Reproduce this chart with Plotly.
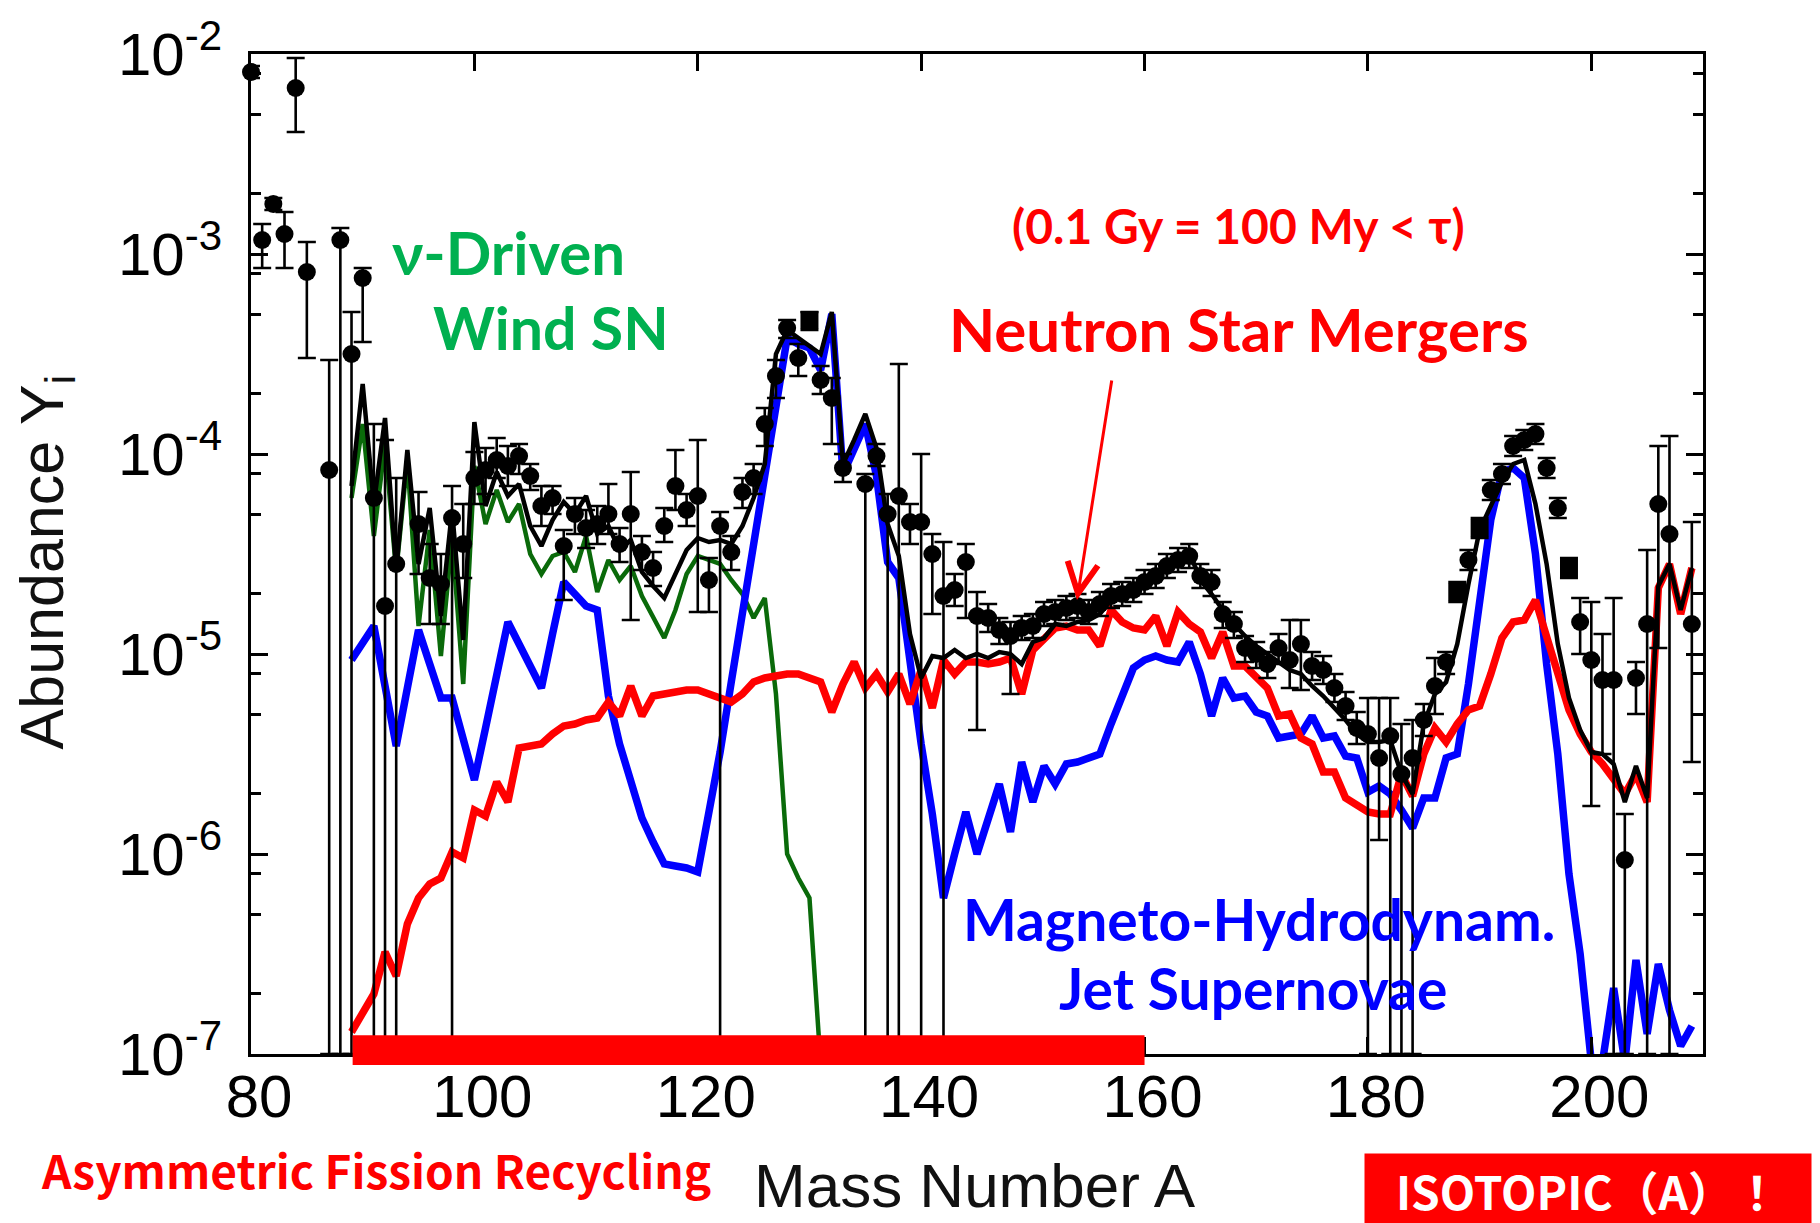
import numpy as np
import plotly.graph_objects as go

# ---------------- observed solar r-process abundances ----------------
# mass number, log10(Y), and lower / upper bounds of the error bar (log10)
obs_A = [80, 81, 82, 83, 84, 85, 87, 88, 89, 90, 91, 92, 93, 95, 96, 97, 98, 99, 100,
         101, 102, 103, 104, 105, 106, 107, 108, 109, 110, 111, 112, 113, 114, 115, 116,
         117, 118, 119, 120, 121, 122, 123, 124, 125, 126, 127, 128, 129, 130, 131, 132,
         133, 135, 136, 137, 138, 139, 140, 141, 142, 143, 144, 145, 146, 147, 148, 149,
         150, 151, 152, 153, 154, 155, 156, 157, 158, 159, 160, 161, 162, 163, 164, 165,
         166, 167, 168, 169, 170, 171, 172, 173, 174, 175, 176, 177, 178, 179, 180, 181,
         182, 183, 184, 185, 186, 187, 188, 189, 190, 191, 192, 193, 194, 195, 196, 197,
         198, 199, 200, 201, 202, 203, 204, 205, 206, 207, 209]
obs_logY = [-2.09, -2.93, -2.75, -2.90, -2.17, -3.09, -4.08, -2.93, -3.50, -3.12, -4.22, -4.76,
            -4.55, -4.35, -4.62, -4.65, -4.32, -4.45, -4.12, -4.08, -4.03, -4.06, -4.01, -4.11,
            -4.26, -4.22, -4.46, -4.30, -4.37, -4.35, -4.30, -4.45, -4.30, -4.49, -4.57, -4.36,
            -4.16, -4.28, -4.21, -4.63, -4.36, -4.49, -4.19, -4.12, -3.85, -3.61, -3.37, -3.52,
            -3.33, -3.63, -3.72, -4.07, -4.15, -4.01, -4.30, -4.21, -4.34, -4.34, -4.50, -4.71,
            -4.68, -4.54, -4.81, -4.82, -4.88, -4.91, -4.87, -4.86, -4.80, -4.79, -4.77, -4.76,
            -4.79, -4.75, -4.71, -4.70, -4.68, -4.64, -4.61, -4.56, -4.53, -4.51, -4.61, -4.64,
            -4.80, -4.85, -4.97, -5.00, -5.05, -4.97, -5.03, -4.95, -5.06, -5.08, -5.17, -5.26,
            -5.37, -5.40, -5.52, -5.41, -5.60, -5.52, -5.33, -5.16, -5.04, -4.69, -4.53, -4.37,
            -4.18, -4.10, -3.96, -3.93, -3.90, -4.07, -4.27, -4.57, -4.84, -5.03, -5.13, -5.13,
            -6.03, -5.12, -4.85, -4.25, -4.40, -4.85]
obs_lo = [-2.12, -3.07, -2.78, -3.07, -2.39, -3.52, -7.00, -7.00, -7.00, -3.44, -7.00, -7.00,
          -7.00, -4.60, -4.85, -4.85, -7.00, -4.62, -4.25, -4.20, -4.12, -4.16, -4.10, -4.18,
          -4.36, -4.30, -4.73, -4.40, -4.47, -4.45, -4.40, -4.54, -4.83, -4.58, -4.66, -4.44,
          -4.28, -4.36, -4.79, -4.79, -7.00, -4.58, -4.27, -4.20, -3.96, -3.72, -3.42, -3.61,
          -3.38, -3.70, -3.95, -4.14, -7.00, -4.06, -7.00, -7.00, -4.45, -7.00, -4.80, -7.00,
          -4.76, -4.82, -5.38, -4.89, -4.95, -5.20, -4.93, -4.92, -4.86, -4.85, -4.83, -4.82,
          -4.85, -4.81, -4.77, -4.76, -4.74, -4.70, -4.67, -4.62, -4.59, -4.57, -4.67, -4.71,
          -4.87, -4.92, -5.04, -5.07, -5.12, -5.05, -5.17, -5.18, -5.13, -5.15, -5.24, -5.33,
          -5.45, -7.00, -5.93, -7.00, -7.00, -7.00, -5.41, -5.30, -5.10, -4.74, -4.58, -4.42,
          -4.23, -4.15, -4.01, -3.98, -3.95, -4.12, -4.32, -4.62, -5.00, -5.76, -5.50, -7.00,
          -7.00, -5.30, -7.00, -4.97, -7.00, -5.54]
obs_hi = [-2.06, -2.85, -2.72, -2.79, -2.02, -2.94, -3.53, -2.87, -3.29, -3.07, -3.85, -3.93,
          -4.12, -4.19, -4.45, -4.50, -4.16, -4.25, -3.99, -3.97, -3.92, -3.96, -3.95, -4.05,
          -4.16, -4.16, -4.38, -4.22, -4.28, -4.26, -4.15, -4.37, -4.09, -4.41, -4.49, -4.27,
          -3.98, -4.20, -3.93, -4.52, -4.29, -4.41, -4.12, -4.05, -3.77, -3.53, -3.33, -3.45,
          -3.29, -3.56, -3.62, -4.00, -4.10, -3.95, -4.20, -3.55, -4.25, -4.00, -4.40, -4.44,
          -4.60, -4.45, -4.69, -4.75, -4.82, -4.84, -4.81, -4.80, -4.74, -4.73, -4.71, -4.70,
          -4.73, -4.69, -4.65, -4.64, -4.62, -4.58, -4.55, -4.50, -4.47, -4.45, -4.55, -4.58,
          -4.74, -4.79, -4.91, -4.94, -4.99, -4.90, -4.83, -4.83, -4.99, -5.01, -5.10, -5.19,
          -5.29, -5.22, -5.22, -5.22, -5.35, -5.33, -5.25, -5.02, -4.99, -4.64, -4.48, -4.32,
          -4.13, -4.05, -3.91, -3.88, -3.85, -4.02, -4.22, -4.52, -4.72, -4.74, -4.90, -4.72,
          -5.80, -5.04, -4.48, -3.96, -3.91, -4.34]
obs_square_A = [130, 188, 190, 198]

# ---------------- model curves (log10 Y) ----------------
wind_A = list(range(89, 132))
wind_logY = [-4.22, -3.85, -4.41, -3.95, -4.59, -4.03, -4.86, -4.38, -5.01, -4.42, -5.15, -4.06,
             -4.35, -4.18, -4.34, -4.25, -4.50, -4.60, -4.51, -4.49, -4.59, -4.41,
             -4.69, -4.53, -4.63, -4.56, -4.71, -4.82, -4.92, -4.78, -4.60, -4.51,
             -4.53, -4.55, -4.63, -4.70, -4.82, -4.72, -5.20, -6.00, -6.12, -6.22, -7.05]

mhd_A = list(range(89, 210))
mhd_logY = [-5.03, -4.95, -4.86, -5.16, -5.46, -5.17, -4.88, -5.05, -5.22, -5.22, -5.43, -5.63,
            -5.37, -5.10, -4.84, -4.95, -5.06, -5.17, -4.90, -4.64, -4.70, -4.76,
            -4.78, -5.21, -5.45, -5.63, -5.82, -5.94, -6.05, -6.06, -6.07, -6.09,
            -5.80, -5.49, -5.14, -4.80, -4.46, -4.10, -3.73, -3.42, -3.45, -3.47,
            -3.58, -3.30, -4.10, -3.97, -3.85, -4.11, -4.54, -4.62, -5.05, -5.45,
            -5.80, -6.22, -6.00, -5.79, -6.00, -5.82, -5.65, -5.89, -5.54, -5.74,
            -5.56, -5.65, -5.55, -5.54, -5.52, -5.50, -5.35, -5.21, -5.07, -5.03,
            -5.01, -5.03, -5.04, -4.94, -5.10, -5.31, -5.12, -5.22, -5.21, -5.29,
            -5.31, -5.42, -5.41, -5.40, -5.31, -5.42, -5.41, -5.51, -5.52, -5.69,
            -5.66, -5.70, -5.78, -5.87, -5.72, -5.72, -5.52, -5.50, -5.15, -4.73,
            -4.33, -4.09, -4.07, -4.12, -4.50, -5.05, -5.50, -6.10, -6.50, -7.04,
            -7.04, -6.67, -7.04, -6.53, -6.90, -6.55, -6.78, -6.96, -6.86]

nsm_A = list(range(89, 210))
nsm_logY = [-6.89, -6.80, -6.70, -6.49, -6.61, -6.35, -6.22, -6.15, -6.12, -5.99, -6.02, -5.78,
            -5.81, -5.64, -5.74, -5.47, -5.46, -5.45, -5.40, -5.36, -5.35, -5.33,
            -5.32, -5.24, -5.31, -5.16, -5.31, -5.21, -5.20, -5.19, -5.18, -5.18,
            -5.20, -5.22, -5.24, -5.20, -5.14, -5.12, -5.11, -5.10, -5.10, -5.12,
            -5.14, -5.29, -5.15, -5.04, -5.17, -5.10, -5.19, -5.10, -5.25, -5.08,
            -5.27, -5.03, -5.10, -5.04, -5.04, -5.05, -5.04, -5.02, -5.20, -4.98,
            -4.92, -4.87, -4.86, -4.88, -4.88, -4.96, -4.78, -4.84, -4.87, -4.88,
            -4.81, -4.96, -4.79, -4.85, -4.89, -5.02, -4.89, -5.06, -5.06, -5.12,
            -5.17, -5.31, -5.30, -5.42, -5.45, -5.59, -5.59, -5.72, -5.75, -5.79,
            -5.80, -5.80, -5.60, -5.71, -5.50, -5.37, -5.44, -5.35, -5.28, -5.26,
            -5.10, -4.92, -4.84, -4.83, -4.73, -4.92, -5.10, -5.28, -5.40, -5.49,
            -5.55, -5.62, -5.70, -5.60, -5.74, -4.67, -4.55, -4.80, -4.57]

total_A = list(range(89, 210))
total_logY = [-4.16, -3.65, -4.25, -3.82, -4.58, -3.98, -4.55, -4.27, -4.81, -4.28, -4.93, -3.84,
              -4.26, -4.09, -4.21, -4.15, -4.36, -4.46, -4.33, -4.24, -4.30, -4.21,
              -4.40, -4.36, -4.48, -4.43, -4.59, -4.66, -4.72, -4.60, -4.48, -4.42,
              -4.44, -4.43, -4.45, -4.36, -4.22, -4.05, -3.50, -3.38, -3.42, -3.46,
              -3.50, -3.29, -4.05, -3.93, -3.80, -3.97, -4.35, -4.51, -4.90, -5.12,
              -5.01, -5.02, -4.98, -5.02, -5.00, -5.02, -4.99, -5.00, -5.05, -4.94,
              -4.92, -4.85, -4.86, -4.84, -4.83, -4.80, -4.73, -4.71, -4.66, -4.65,
              -4.60, -4.56, -4.51, -4.49, -4.63, -4.70, -4.78, -4.85, -4.91, -4.96,
              -5.00, -5.04, -5.08, -5.10, -5.16, -5.21, -5.27, -5.33, -5.40, -5.44,
              -5.44, -5.43, -5.60, -5.70, -5.35, -5.20, -5.14, -4.95, -4.65, -4.38,
              -4.26, -4.14, -4.05, -4.03, -4.25, -4.55, -4.95, -5.22, -5.38, -5.49,
              -5.50, -5.55, -5.74, -5.56, -5.72, -4.66, -4.55, -4.78, -4.57]

# fission-recycling mass range marked under the axis
fission_range = [89.1, 160.0]

# axis ticks
x_ticks = [80, 100, 120, 140, 160, 180, 200]
y_exponents = [-7, -6, -5, -4, -3, -2]
y_ticktext = ["10<sup>%d</sup>" % e for e in y_exponents]
y_minor = [m * 10.0 ** e for e in range(-7, -2) for m in (2, 5, 8)]

# ---------------- page geometry ----------------
W, H = 1820, 1223
ML, MR, MT, MB = 251, 117, 47, 169
PW, PH = W - ML - MR, H - MT - MB


def px(x, y):
    """pixel position on the page -> paper coordinates"""
    return (x - ML) / PW, (H - MB - y) / PH


def lin(v):
    return 10.0 ** np.asarray(v, dtype=float)


obs_y = lin(obs_logY)
err_plus = lin(obs_hi) - obs_y
err_minus = obs_y - lin(obs_lo)
obs_symbols = ["square" if a in obs_square_A else "circle" for a in obs_A]

fig = go.Figure()
fig.add_trace(go.Scatter(x=wind_A, y=lin(wind_logY), mode="lines",
                         line=dict(color="#0A6A0A", width=4.5), name="nu-wind"))
fig.add_trace(go.Scatter(x=mhd_A, y=lin(mhd_logY), mode="lines",
                         line=dict(color="#0000FF", width=7.5), name="MHD jet"))
fig.add_trace(go.Scatter(x=nsm_A, y=lin(nsm_logY), mode="lines",
                         line=dict(color="#FF0000", width=7.5), name="NSM"))
fig.add_trace(go.Scatter(x=total_A, y=lin(total_logY), mode="lines",
                         line=dict(color="black", width=4.5), name="total"))
fig.add_trace(go.Scatter(
    x=obs_A, y=obs_y, mode="markers", cliponaxis=False, name="solar r",
    marker=dict(color="black", size=18, symbol=obs_symbols, line=dict(width=0)),
    error_y=dict(type="data", symmetric=False, array=err_plus, arrayminus=err_minus,
                 color="black", thickness=2.6, width=9)))

axis_font = dict(family="Liberation Sans, Arial, sans-serif", size=60, color="black")

fig.update_xaxes(range=[80, 210], tickmode="array", tickvals=x_ticks,
                 ticks="inside", ticklen=17, tickwidth=3, tickcolor="black",
                 showline=True, linewidth=3, linecolor="black", mirror="ticks",
                 showgrid=False, zeroline=False, tickfont=axis_font,
                 ticklabelshift=8, ticklabelstandoff=-12)
fig.update_yaxes(type="log", range=[-7, -2], tickmode="array",
                 tickvals=[10.0 ** e for e in y_exponents], ticktext=y_ticktext,
                 ticks="inside", ticklen=17, tickwidth=3, tickcolor="black",
                 minor=dict(tickvals=y_minor, ticks="inside", ticklen=10,
                            tickwidth=3, tickcolor="black", showgrid=False),
                 showline=True, linewidth=3, linecolor="black", mirror="ticks",
                 showgrid=False, zeroline=False, tickfont=axis_font,
                 ticklabelstandoff=14)

# red bar marking the asymmetric-fission range
fig.add_shape(type="rect", xref="x", yref="paper",
              x0=fission_range[0], x1=fission_range[1],
              y0=px(0, 1065)[1], y1=px(0, 1035)[1],
              fillcolor="#FF0000", line=dict(width=0), layer="above")

label_font = "Lato, Carlito, Open Sans, sans-serif"
narrow_font = "Noto Sans CJK JP, Liberation Sans, sans-serif"


def label(text, x, y, color, size, family=label_font, weight="bold", **kw):
    xp, yp = px(x, y)
    fig.add_annotation(text=text, xref="paper", yref="paper", x=xp, y=yp,
                       xanchor="center", yanchor="middle", showarrow=False,
                       font=dict(family=family, size=size, color=color, weight=weight),
                       **kw)


label("ν-Driven", 508, 246, "#00B050", 60)
label("Wind SN", 551, 322, "#00B050", 59)
label("(0.1 Gy = 100 My < τ)", 1238, 220, "#FF0000", 48)
label("Neutron Star Mergers", 1239, 324, "#FF0000", 60)
label("Magneto-Hydrodynam.", 1259, 918, "#0000FF", 57)
label("Jet Supernovae", 1253, 988, "#0000FF", 57)
label("Asymmetric Fission Recycling", 376, 1170, "#FF0000", 46, family=narrow_font)
label("Mass Number A", 975, 1186, "#111111", 62,
      family="Liberation Sans, Arial, sans-serif", weight="normal")
label("Abundance Y<sub>i</sub>", 46, 558, "#111111", 61,
      family="Liberation Sans, Arial, sans-serif", weight="normal", textangle=-90)
label("ISOTOPIC（A）！", 1588, 1190, "white", 46, family=narrow_font,
      bgcolor="#FF0000", width=446, height=71, borderpad=0)

# arrow pointing from the merger label to the curve
fig.add_annotation(x=153.95, y=-4.73, xref="x", yref="y", text="",
                   showarrow=True, ax=35, ay=-221, arrowhead=5, arrowsize=2,
                   arrowwidth=3, arrowcolor="#FF0000", standoff=0)

fig.update_layout(width=W, height=H, margin=dict(l=ML, r=MR, t=MT, b=MB),
                  paper_bgcolor="white", plot_bgcolor="white", showlegend=False)

fig.write_html("out.html")
